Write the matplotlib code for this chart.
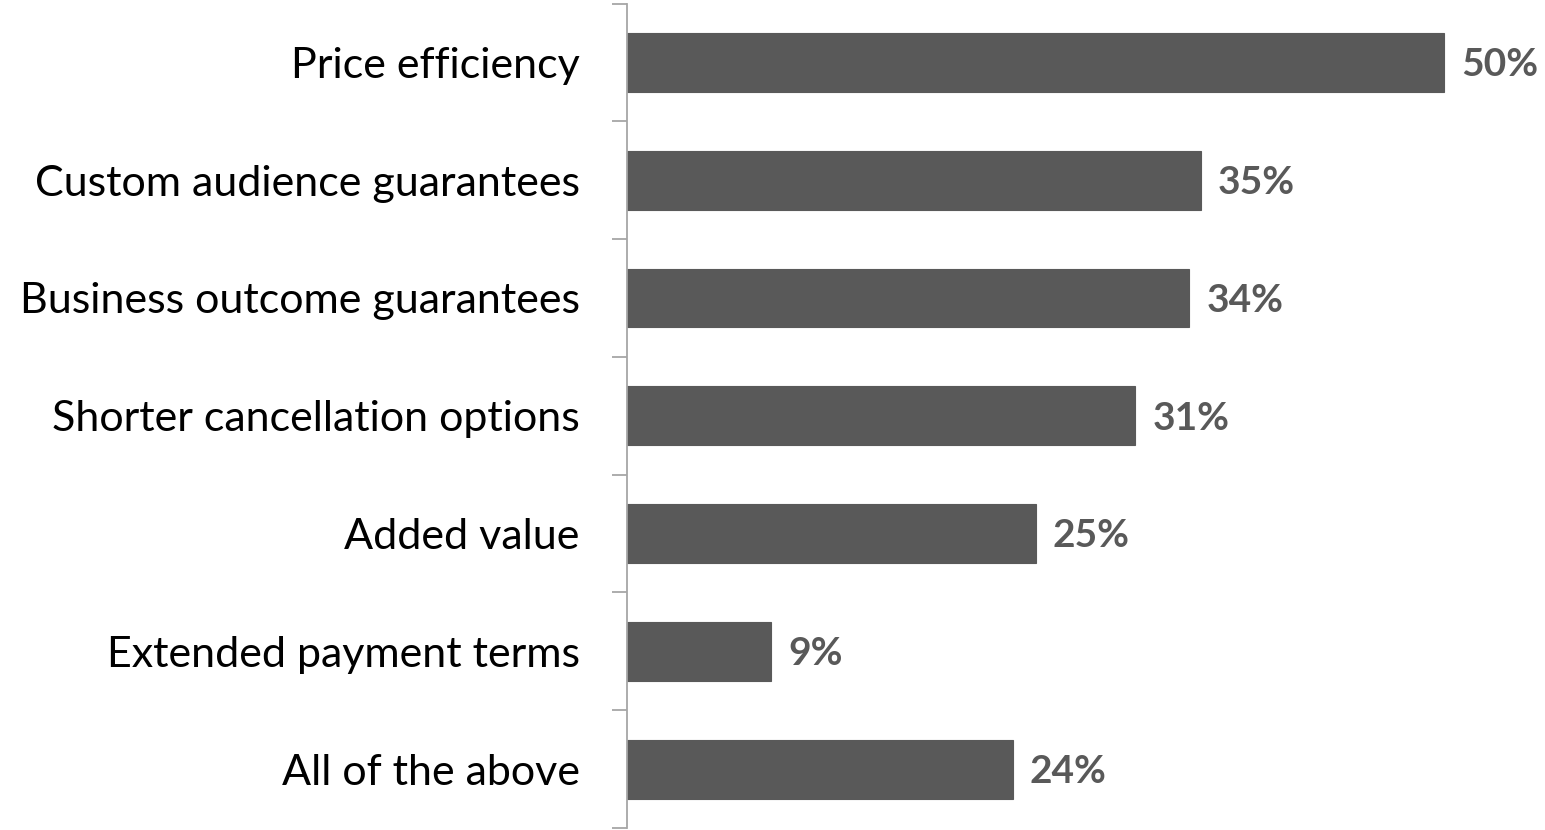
import matplotlib
matplotlib.use("Agg")
import matplotlib.pyplot as plt
import numpy as np

categories = ["Price efficiency", "Custom audience guarantees", "Business outcome guarantees",
              "Shorter cancellation options", "Added value", "Extended payment terms", "All of the above"]
values = [50.0, 35.1, 34.4, 31.1, 25.0, 8.8, 23.6]
value_labels = ["50%", "35%", "34%", "31%", "25%", "9%", "24%"]

plt.rcParams['font.family'] = ['Lato', 'DejaVu Sans']

fig = plt.figure(figsize=(15.45, 8.3), dpi=100)
ax = fig.add_axes([627/1545, 2/830, 898.7/1545, 824.5/830])

n = len(categories)
y = np.arange(n)
ax.barh(y, values, height=0.5, color="#595959", edgecolor="#595959", linewidth=0.8, zorder=2)
ax.set_ylim(n - 0.5, -0.5)
ax.set_xlim(0, 55)

for yi, v, lab in zip(y, values, value_labels):
    ax.text(v + 1.05, yi + 0.02, lab, va="center", ha="left", fontsize=28, fontweight="bold", color="#595959")

ax.set_yticks(y)
ax.set_yticklabels(categories, fontsize=31, color="black")
ax.tick_params(axis="y", which="major", length=0, pad=34)
ax.set_yticks(np.arange(-0.5, n, 1.0), minor=True)
ax.tick_params(axis="y", which="minor", length=11, width=1.3, color="#a6a6a6")
ax.set_xticks([])
for s in ["top", "right", "bottom"]:
    ax.spines[s].set_visible(False)
ax.spines["left"].set_color("#a6a6a6")
ax.spines["left"].set_linewidth(1.3)

fig.savefig("out.png", dpi=100)
